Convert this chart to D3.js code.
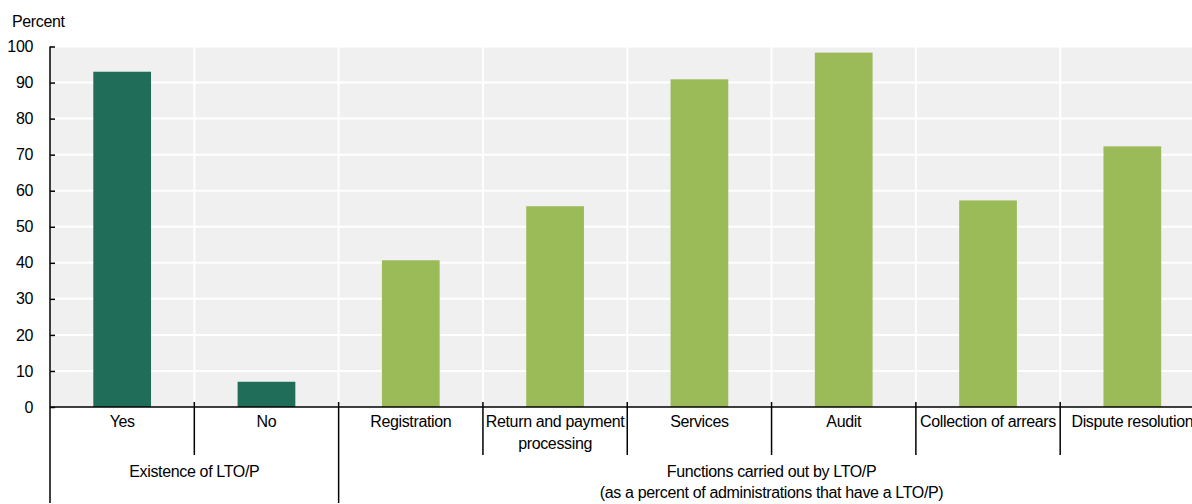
<!DOCTYPE html>
<html><head><meta charset="utf-8">
<script src="https://cdn.jsdelivr.net/npm/d3@7/dist/d3.min.js"></script>
<style>body{margin:0;background:#fff;}svg{display:block;font-family:"Liberation Sans",Arial,sans-serif;}
text{letter-spacing:-0.35px;}</style>
</head><body><svg id="c" width="1192" height="504"></svg>
<script>
const categories = ["Yes","No","Registration","Return and payment\nprocessing","Services","Audit","Collection of arrears","Dispute resolution"];
const values = [93, 7, 40.7, 55.7, 90.9, 98.3, 57.3, 72.3];
const groupOf = [0,0,1,1,1,1,1,1];
const groups = ["Existence of LTO/P", "Functions carried out by LTO/P\n(as a percent of administrations that have a LTO/P)"];
const groupColors = ["#206e5a", "#9bbb59"];
const yTicks = [0,10,20,30,40,50,60,70,80,90,100];
const yLabel = "Percent";

const FS = 16;
const svg = d3.select("#c");
const x0 = 50, x1 = 1204.5, yTop = 46.5, yBot = 407;
const x = d3.scaleBand().domain(d3.range(categories.length)).range([x0, x1]).paddingInner(0.6).paddingOuter(0.3);
const step = x.step();
const y = d3.scaleLinear().domain([0,100]).range([yBot, yTop]);

svg.append("rect").attr("x", x0).attr("y", yTop).attr("width", 1192 - x0).attr("height", yBot - yTop).attr("fill", "#f0f0f0");
// horizontal grid
svg.append("g").selectAll("line").data(yTicks.filter(d=>d>0)).join("line")
  .attr("x1", x0).attr("x2", 1192).attr("y1", d=>y(d)).attr("y2", d=>y(d))
  .attr("stroke", "#fff").attr("stroke-width", 2);
// vertical grid
const bounds = d3.range(1, categories.length).map(i => x0 + i*step);
svg.append("g").selectAll("line").data(bounds).join("line")
  .attr("x1", d=>d).attr("x2", d=>d).attr("y1", yTop).attr("y2", yBot)
  .attr("stroke", "#fff").attr("stroke-width", 2);
// bars
svg.append("g").selectAll("rect").data(values).join("rect")
  .attr("x", (d,i)=>x(i)).attr("width", x.bandwidth())
  .attr("y", d=>y(d)).attr("height", d=>yBot - y(d))
  .attr("fill", (d,i)=>groupColors[groupOf[i]]);
// y axis
const ya = svg.append("g").attr("transform", `translate(${x0},0)`)
  .call(d3.axisLeft(y).tickValues(yTicks).tickSize(-5).tickPadding(17));
ya.select(".domain").remove();
ya.selectAll(".tick line").attr("stroke", "#000").attr("stroke-width", 1.5);
ya.selectAll("text").attr("font-size", FS).attr("fill", "#000").attr("font-family", "Liberation Sans, Arial, sans-serif");
svg.append("line").attr("x1", x0).attr("x2", x0).attr("y1", yTop).attr("y2", 503).attr("stroke", "#000").attr("stroke-width", 1.5);
svg.append("text").attr("x", 12).attr("y", 27).attr("font-size", FS).text(yLabel);
// x axis line
svg.append("line").attr("x1", x0).attr("x2", 1192).attr("y1", yBot).attr("y2", yBot).attr("stroke", "#000").attr("stroke-width", 1.5);
// category separators
const groupStart = 2;
svg.append("g").selectAll("line").data(bounds).join("line")
  .attr("x1", d=>d).attr("x2", d=>d).attr("y1", yBot - 5)
  .attr("y2", (d,i)=> (i+1)===groupStart ? 503 : 455)
  .attr("stroke", "#000").attr("stroke-width", 1.5);
// category labels
categories.forEach((c,i) => {
  const t = svg.append("text").attr("x", x(i) + x.bandwidth()/2).attr("y", 427)
    .attr("text-anchor", "middle").attr("font-size", FS);
  c.split("\n").forEach((l,j) => t.append("tspan").attr("x", x(i)+x.bandwidth()/2).attr("dy", j? 22:0).text(l));
});
// group labels
groups.forEach((g,gi) => {
  const idx = d3.range(categories.length).filter(i=>groupOf[i]===gi);
  const cx = (x0 + idx[0]*step + x0 + (idx[idx.length-1]+1)*step)/2;
  const t = svg.append("text").attr("y", 477).attr("text-anchor", "middle").attr("font-size", FS);
  g.split("\n").forEach((l,j) => t.append("tspan").attr("x", cx).attr("dy", j?21:0).text(l));
});
</script></body></html>
